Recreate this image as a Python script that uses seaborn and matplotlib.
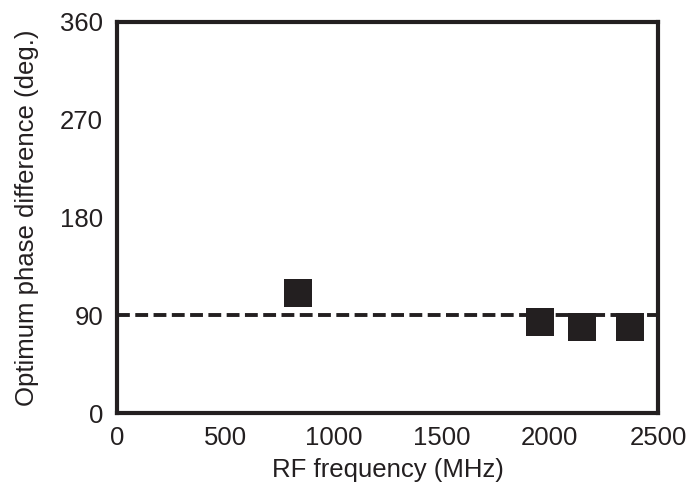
import matplotlib
matplotlib.use("Agg")
import matplotlib.pyplot as plt
import seaborn as sns
import pandas as pd

# Measured optimum phase difference vs RF frequency
freq_mhz = [838, 1954, 2148, 2370]
phase_deg = [110, 84, 79, 79]
ref_phase = 90
x_ticks = [0, 500, 1000, 1500, 2000, 2500]
y_ticks = [0, 90, 180, 270, 360]

ink = "#231f20"

sns.set_theme(style="white")
plt.rcParams["font.family"] = ["Liberation Sans", "DejaVu Sans"]

df = pd.DataFrame({"freq": freq_mhz, "phase": phase_deg})

fig = plt.figure(figsize=(6.92, 4.97), dpi=100)
ax = fig.add_axes([0.169, 0.169, 0.782, 0.787])

ax.axhline(ref_phase, color=ink, lw=2.8, ls=(0, (3.3, 1.4)), zorder=1)
sns.scatterplot(data=df, x="freq", y="phase", marker="s", s=400,
                color=ink, edgecolor=ink, linewidth=0, ax=ax, zorder=3)

ax.set_xlim(0, 2500)
ax.set_ylim(0, 360)
ax.set_xticks(x_ticks)
ax.set_yticks(y_ticks)
ax.tick_params(direction="in", length=5, width=3, color=ink,
               labelsize=18.5, labelcolor=ink)
ax.tick_params(axis="y", pad=10)
ax.tick_params(axis="x", pad=9)
ax.set_xlabel("RF frequency (MHz)", fontsize=18.5, color=ink, labelpad=6)
ax.set_ylabel("Optimum phase difference (deg.)", fontsize=18.5, color=ink, labelpad=15)
for sp in ax.spines.values():
    sp.set_linewidth(3.0)
    sp.set_color(ink)
    sp.set_visible(True)

fig.savefig("out.png", dpi=100)
